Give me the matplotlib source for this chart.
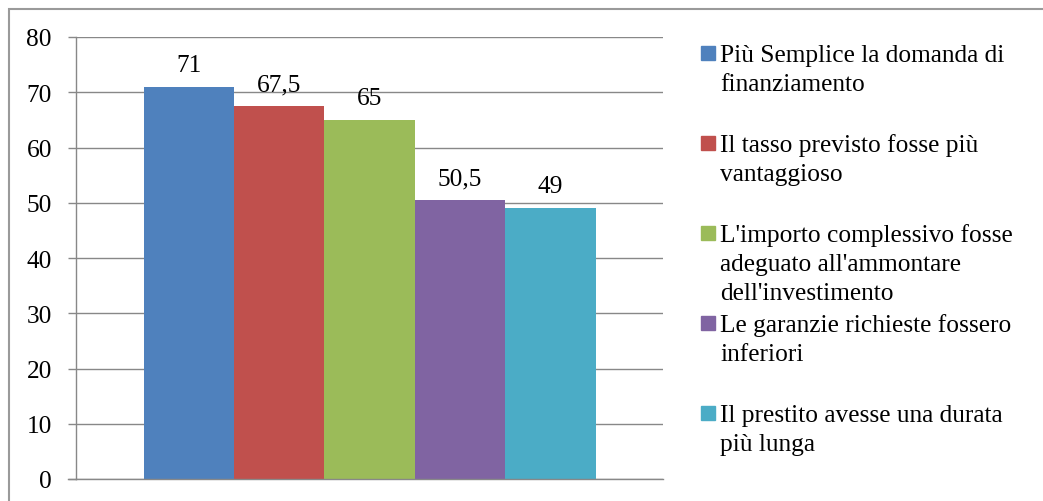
import matplotlib
matplotlib.use('Agg')
import matplotlib.pyplot as plt
from matplotlib.patches import Rectangle

# dati del grafico
etichette = ['Più Semplice la domanda di\nfinanziamento',
             'Il tasso previsto fosse più\nvantaggioso',
             "L'importo complessivo fosse\nadeguato all'ammontare\ndell'investimento",
             'Le garanzie richieste fossero\ninferiori',
             'Il prestito avesse una durata\npiù lunga']
valori = [71, 67.5, 65, 50.5, 49]
testi_valori = ['71', '67,5', '65', '50,5', '49']
colori = ['#4F81BD', '#C0504D', '#9BBB59', '#8064A2', '#4BACC6']
yticks = [0, 10, 20, 30, 40, 50, 60, 70, 80]

plt.rcParams['font.family'] = ['Liberation Serif', 'DejaVu Serif']
fs = 18.3
grigio = '#888888'

W, H = 1043, 502
fig = plt.figure(figsize=(W / 100, H / 100), dpi=100)

def fx(px):
    return px / W

def fy(py):
    return 1 - py / H

# cornice esterna
fig.patches.append(Rectangle((fx(9), fy(540)), fx(1100) - fx(9), fy(10) - fy(540),
                             transform=fig.transFigure, fill=False,
                             edgecolor='#9a9a9a', linewidth=1.5))

ax = fig.add_axes([fx(76), fy(480), fx(663) - fx(76), fy(38) - fy(480)])

n = len(valori)
larg_gruppo = 452 / 587
w = larg_gruppo / n
x0 = 0.5 - larg_gruppo / 2
xs = [x0 + w * (i + 0.5) for i in range(n)]

ax.bar(xs, valori, width=w, color=colori, zorder=3)
for x, v, t in zip(xs, valori, testi_valori):
    ax.annotate(t, (x, v), xytext=(0, 11.5), textcoords='offset points',
                ha='center', va='baseline', fontsize=fs)

ax.set_xlim(0, 1)
ax.set_ylim(0, 80)
ax.set_yticks(yticks)
ax.set_yticklabels([str(t) for t in yticks], fontsize=fs)
ax.set_xticks([])
ax.grid(axis='y', color=grigio, linewidth=1.0, zorder=0)
ax.tick_params(axis='y', direction='out', length=5.8, width=1.0, color=grigio, pad=11.5)
for s in ['top', 'right']:
    ax.spines[s].set_visible(False)
for s in ['left', 'bottom']:
    ax.spines[s].set_color(grigio)
    ax.spines[s].set_linewidth(1.0)
ax.spines['bottom'].set_zorder(4)

# prolungamento della linea dello zero a sinistra
ax.plot([-8 / 587, 0], [0, 0], color=grigio, linewidth=1.0, clip_on=False)

# legenda disegnata a mano
for i, (lab, c) in enumerate(zip(etichette, colori)):
    base = 62 + 90 * i
    fig.patches.append(Rectangle((fx(701), fy(base - 1)), fx(14), 14 / H,
                                 transform=fig.transFigure, color=c))
    for j, riga in enumerate(lab.split('\n')):
        fig.text(fx(720), fy(base + 29 * j), riga, fontsize=fs, va='baseline', ha='left')

fig.savefig('out.png', dpi=100)
